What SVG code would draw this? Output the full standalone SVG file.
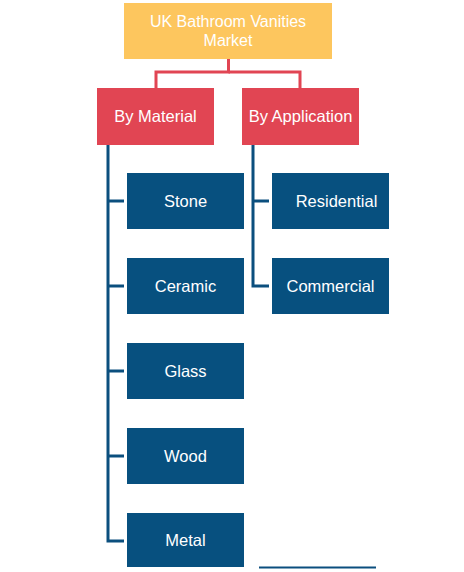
<svg xmlns="http://www.w3.org/2000/svg" width="464" height="572" viewBox="0 0 464 572">
<style>
.root{fill:#FDC65E}
.cat{fill:#E14553}
.leaf{fill:#07507F}
.t{font-family:"Liberation Sans",Arial,sans-serif;font-size:16.5px;fill:#fff;text-anchor:middle}
.rl{fill:none;stroke:#E14553;stroke-width:3}
.bl{fill:none;stroke:#0B4F7E;stroke-width:3}
</style>
<rect width="464" height="572" fill="#fff"/>
<g id="connectors">
<polyline class="rl" points="228.5,59 228.5,72 156,72 156,88"/>
<polyline class="rl" points="228.5,72 300,72 300,88"/>
<polyline class="bl" points="108,145 108,541 124,541"/>
<line class="bl" x1="108" y1="201" x2="124" y2="201"/>
<line class="bl" x1="108" y1="286" x2="124" y2="286"/>
<line class="bl" x1="108" y1="371" x2="124" y2="371"/>
<line class="bl" x1="108" y1="456" x2="124" y2="456"/>
<polyline class="bl" points="253,145 253,286 269,286"/>
<line class="bl" x1="253" y1="201" x2="269" y2="201"/>
</g>
<g id="root">
<rect class="root" x="124" y="3" width="208" height="56"/>
<text class="t" x="228" y="27" style="font-size:16px">UK Bathroom Vanities</text>
<text class="t" x="228" y="46" style="font-size:16px">Market</text>
</g>
<g id="by-material">
<rect class="cat" x="97" y="88" width="117" height="57"/>
<text class="t" x="155.5" y="122">By Material</text>
</g>
<g id="by-application">
<rect class="cat" x="242" y="88" width="117" height="57"/>
<text class="t" x="300.5" y="122">By Application</text>
</g>
<g id="stone">
<rect class="leaf" x="127" y="173" width="117" height="56"/>
<text class="t" x="185.5" y="207">Stone</text>
</g>
<g id="ceramic">
<rect class="leaf" x="127" y="258" width="117" height="56"/>
<text class="t" x="185.5" y="292">Ceramic</text>
</g>
<g id="glass">
<rect class="leaf" x="127" y="343" width="117" height="56"/>
<text class="t" x="185.5" y="377">Glass</text>
</g>
<g id="wood">
<rect class="leaf" x="127" y="428" width="117" height="56"/>
<text class="t" x="185.5" y="462">Wood</text>
</g>
<g id="metal">
<rect class="leaf" x="127" y="513" width="117" height="54"/>
<text class="t" x="185.5" y="546">Metal</text>
</g>
<g id="residential">
<rect class="leaf" x="272" y="173" width="117" height="56"/>
<text class="t" x="336.5" y="207">Residential</text>
</g>
<g id="commercial">
<rect class="leaf" x="272" y="258" width="117" height="56"/>
<text class="t" x="330.5" y="292">Commercial</text>
</g>
<line x1="259" y1="567.5" x2="376" y2="567.5" stroke="#0B4F7E" stroke-width="2"/>
</svg>
